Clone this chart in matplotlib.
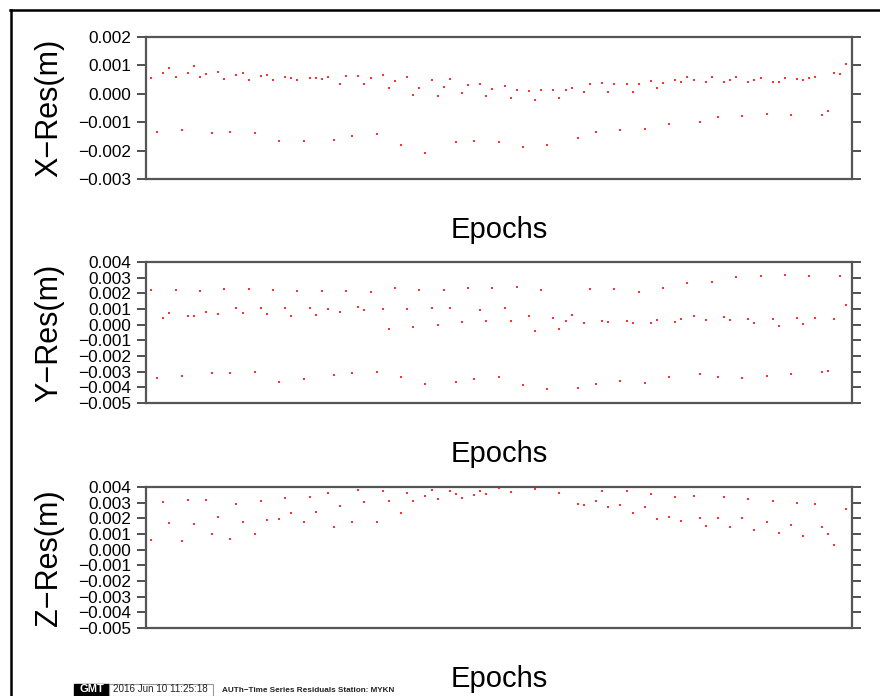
# Time series residuals, station MYKN
# X / Y / Z residual panels against epochs

###################################
#     Modules                   ###
###################################

import numpy as np
import matplotlib
matplotlib.use('Agg')
import matplotlib.pyplot as plt
from matplotlib.lines import Line2D
from matplotlib.patches import Rectangle

plt.rcParams['font.family'] = ['Liberation Sans', 'DejaVu Sans']

###################################
#     Data (residuals in mm)    ###
###################################

nan = np.nan

x_res_mm = [0.56, -1.34, 0.74, 0.92, 0.59, -1.27, 0.74, 0.97, 0.59, 0.70,
            -1.38, 0.77, 0.52, -1.36, 0.65, 0.72, 0.49, -1.38, 0.62, 0.67,
            0.50, -1.67, 0.59, 0.55, 0.49, -1.65, 0.56, 0.56, 0.53, 0.59,
            -1.62, 0.34, 0.61, -1.48, 0.63, 0.33, 0.54, -1.42, 0.66, 0.20,
            0.46, -1.82, 0.58, -0.05, 0.22, -2.07, 0.48, -0.09, 0.25, 0.52,
            -1.71, 0.04, 0.31, -1.67, 0.33, -0.09, 0.18, -1.70, 0.27, -0.15,
            0.12, -1.87, 0.11, -0.23, 0.12, -1.81, 0.14, -0.16, 0.14, 0.21,
            -1.56, 0.07, 0.33, -1.33, 0.39, 0.08, 0.33, -1.28, 0.36, 0.08,
            0.33, -1.23, 0.45, 0.20, 0.38, -1.06, 0.50, 0.40, 0.58, 0.48,
            -1.01, 0.41, 0.60, -0.81, 0.42, 0.47, 0.60, -0.77, 0.43, 0.47,
            0.54, -0.72, 0.42, 0.43, 0.56, -0.73, 0.52, 0.48, 0.55, 0.59,
            -0.74, -0.60, 0.73, 0.70, 1.04]

y_res_mm = [2.19, -3.40, 0.45, 0.74, 2.19, -3.28, 0.57, 0.57, 2.13, 0.83,
            -3.09, 0.68, 2.26, -3.06, 1.09, 0.72, 2.28, -3.04, 1.06, 0.66,
            2.23, -3.64, 1.04, 0.53, 2.13, -3.47, 1.06, 0.64, 2.17, 0.98,
            -3.19, 0.83, 2.17, -3.06, 1.15, 0.96, 2.06, -3.02, 1.00, -0.26,
            2.32, -3.36, 1.02, -0.17, 2.21, -3.79, 1.06, -0.02, 2.19, 1.09,
            -3.66, 0.19, 2.32, -3.49, 0.96, 0.23, 2.36, -3.34, 1.04, 0.21,
            2.40, -3.85, 0.55, -0.40, 2.19, -4.09, 0.45, -0.26, 0.23, 0.62,
            -4.04, 0.11, 2.26, -3.77, 0.26, 0.17, 2.28, -3.62, 0.21, 0.11,
            2.09, -3.72, 0.13, 0.28, 2.34, -3.32, 0.19, 0.38, 2.68, 0.57,
            -3.13, 0.28, 2.74, -3.34, 0.49, 0.32, 3.04, -3.40, 0.38, 0.13,
            3.11, -3.26, 0.38, -0.06, 3.17, -3.13, 0.40, 0.06, 3.13, 0.43,
            -3.02, -2.94, 0.34, 3.11, 1.28]

z_res_mm = [0.60, nan, 3.03, 1.69, nan, 0.56, 3.20, 1.62, nan, 3.19,
            1.03, 2.07, nan, 0.71, 2.89, 1.79, nan, 1.03, 3.10, 1.90,
            nan, 1.97, 3.30, 2.35, nan, 1.75, 3.37, 2.39, nan, 3.59,
            1.43, 2.80, nan, 1.75, 3.84, 3.07, nan, 1.79, 3.76, 3.10,
            nan, 2.33, 3.62, 3.08, nan, 3.43, 3.79, 3.24, nan, 3.77,
            3.54, 3.28, nan, 3.50, 3.77, 3.54, nan, 3.96, nan, 3.70,
            nan, nan, nan, 3.89, nan, nan, nan, 3.60, nan, nan,
            2.92, 2.85, nan, 3.11, 3.75, 2.73, nan, 2.85, 3.75, 2.35,
            nan, 2.70, 3.55, 1.97, nan, 2.09, 3.39, 1.82, nan, 3.44,
            1.99, 1.52, nan, 2.05, 3.34, 1.45, nan, 1.99, 3.22, 1.24,
            nan, 1.75, 3.09, 1.07, nan, 1.56, 3.00, 0.88, nan, 2.90,
            1.47, 1.00, 0.30, nan, 2.62]

epochs = np.arange(len(x_res_mm))

x_ticks = [-0.003, -0.002, -0.001, 0.000, 0.001, 0.002]
yz_ticks = [-0.005, -0.004, -0.003, -0.002, -0.001, 0.000,
            0.001, 0.002, 0.003, 0.004]

panels = [('X\u2212Res(m)', x_res_mm, x_ticks),
          ('Y\u2212Res(m)', y_res_mm, yz_ticks),
          ('Z\u2212Res(m)', z_res_mm, yz_ticks)]

footer_date = '2016 Jun 10 11:25:18'
footer_title = 'AUTh\u2212Time Series Residuals Station: MYKN'

###################################
#     Plot                      ###
###################################

W, H = 880, 696
fig = plt.figure(figsize=(W / 100, H / 100), dpi=100)


def fx(px):
    return px / W


def fy(py):
    return 1 - py / H


tops = [37, 262, 487]
bots = [179, 403, 628]
left, right = 146, 852

for k, (label, vals, ticks) in enumerate(panels):
    ax = fig.add_axes([fx(left), fy(bots[k]), fx(right - left),
                       (bots[k] - tops[k]) / H])
    ax.plot(epochs, np.array(vals) * 1e-3, linestyle='None', marker='s',
            markersize=1.7, markeredgewidth=0, color='#ff3030')
    ax.set_xlim(-0.85, 115.0)
    ax.set_ylim(ticks[0], ticks[-1])
    ax.set_xticks([])
    ax.set_yticks(ticks)
    ax.set_yticklabels([('%.3f' % t).replace('-', '\u2212') for t in ticks],
                       fontsize=12.4)
    ax.tick_params(axis='y', direction='out', length=6.5, width=1.1,
                   color='#222222', pad=4, left=True, right=True,
                   labelright=False)
    for s in ax.spines.values():
        s.set_color('#555555')
        s.set_linewidth(1.6)

    fig.text(fx(49), fy((tops[k] + bots[k]) / 2), label, rotation=90,
             ha='center', va='center', fontsize=22)
    fig.text(fx(499), fy(bots[k] + 58.7), 'Epochs', ha='center',
             va='baseline', fontsize=21)

# page frame (GMT style)
fig.add_artist(Line2D([fx(10), 1], [fy(10), fy(10)], color='black',
                      linewidth=1.8))
fig.add_artist(Line2D([fx(11), fx(11)], [fy(10), 0], color='black',
                      linewidth=1.8))

# GMT time stamp
fig.add_artist(Rectangle((fx(74), 0), fx(35), 12 / H, facecolor='black',
                         edgecolor='black', transform=fig.transFigure))
fig.text(fx(91.5), fy(692.5), 'GMT', color='white', fontsize=8,
         fontweight='bold', ha='center', va='baseline')
fig.add_artist(Rectangle((fx(109), 0), fx(104), 12 / H, facecolor='white',
                         edgecolor='#999999', linewidth=0.8,
                         transform=fig.transFigure))
fig.text(fx(113), fy(692.5), footer_date, fontsize=7.1, ha='left',
         va='baseline', color='#222222')
fig.text(fx(222), fy(692.5), footer_title, fontsize=5.9, fontweight='bold',
         ha='left', va='baseline', color='#222222')

plt.savefig('out.png', dpi=100)
